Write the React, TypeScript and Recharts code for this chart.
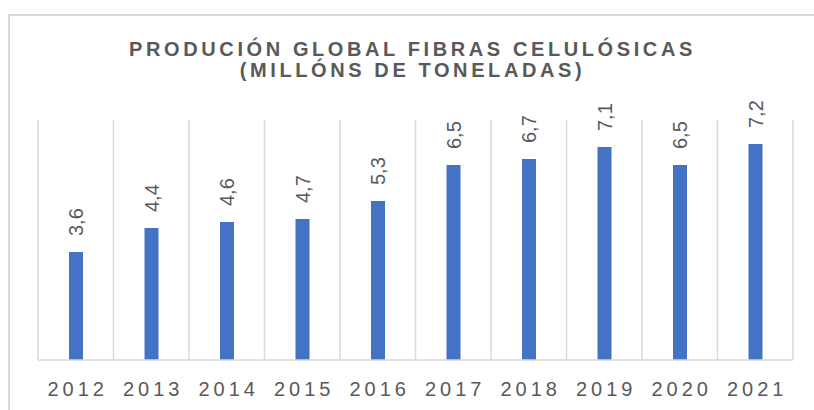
import React from 'react';
import { BarChart, Bar, XAxis, YAxis, CartesianGrid, LabelList } from 'recharts';

const years = ['2012', '2013', '2014', '2015', '2016', '2017', '2018', '2019', '2020', '2021'];
const production = [3.6, 4.4, 4.6, 4.7, 5.3, 6.5, 6.7, 7.1, 6.5, 7.2];
const titleLines = ['PRODUCIÓN GLOBAL FIBRAS CELULÓSICAS', '(MILLÓNS DE TONELADAS)'];

const data = years.map((year, i) => ({ year, value: production[i] }));

const FONT = '"Liberation Sans", Arial, sans-serif';
const GREY = '#595959';

function RotatedLabel(props: any) {
  const vb = props.viewBox || {};
  const x = props.x ?? vb.x;
  const y = props.y ?? vb.y;
  const width = props.width ?? vb.width;
  const cx = x + width / 2;
  const ly = y - 16;
  return (
    <text
      x={cx}
      y={ly}
      dy={7}
      transform={`rotate(-90, ${cx}, ${ly})`}
      textAnchor="start"
      fontFamily={FONT}
      fontSize={20}
      fill={GREY}
    >
      {String(props.value).replace('.', ',')}
    </text>
  );
}

function YearTick(props: any) {
  const { x, y, payload } = props;
  return (
    <text
      x={x + 2}
      y={y}
      dy={28}
      textAnchor="middle"
      fontFamily={FONT}
      fontSize={20}
      letterSpacing={4}
      fill={GREY}
    >
      {payload.value}
    </text>
  );
}

export default function App() {
  return (
    <div style={{ position: 'absolute', left: 0, top: 0, width: 814, height: 410, overflow: 'hidden', background: '#fff' }}>
      <div
        style={{
          position: 'absolute',
          left: 8,
          top: 14,
          width: 900,
          height: 500,
          border: '2px solid #d9d9d9',
          boxSizing: 'border-box',
        }}
      />
      <div
        style={{
          position: 'absolute',
          left: 0,
          top: 39,
          width: 814,
          textAlign: 'center',
          fontFamily: FONT,
          fontWeight: 'bold',
          fontSize: 20,
          lineHeight: '21px',
          letterSpacing: 3.6,
          paddingLeft: 11,
          boxSizing: 'border-box',
          color: GREY,
        }}
      >
        {titleLines.map((line) => (
          <div key={line}>{line}</div>
        ))}
      </div>
      <div style={{ position: 'absolute', left: 0, top: 0 }}>
        <BarChart
          width={814}
          height={410}
          data={data}
          margin={{ top: 120, right: 21, left: 38, bottom: 10 }}
        >
          <CartesianGrid
            horizontal={false}
            stroke="#d9d9d9"
            strokeWidth={1.5}
            verticalCoordinatesGenerator={({ offset }: any) =>
              Array.from({ length: years.length + 1 }, (_, i) => offset.left + (i * offset.width) / years.length)
            }
          />
          <XAxis
            dataKey="year"
            axisLine={{ stroke: '#d9d9d9', strokeWidth: 1.5 }}
            tickLine={false}
            height={40}
            interval={0}
            tick={<YearTick />}
          />
          <YAxis hide domain={[0, 8]} />
          <Bar dataKey="value" fill="#4472C4" barSize={14} isAnimationActive={false}>
            <LabelList dataKey="value" content={<RotatedLabel />} />
          </Bar>
        </BarChart>
      </div>
    </div>
  );
}
